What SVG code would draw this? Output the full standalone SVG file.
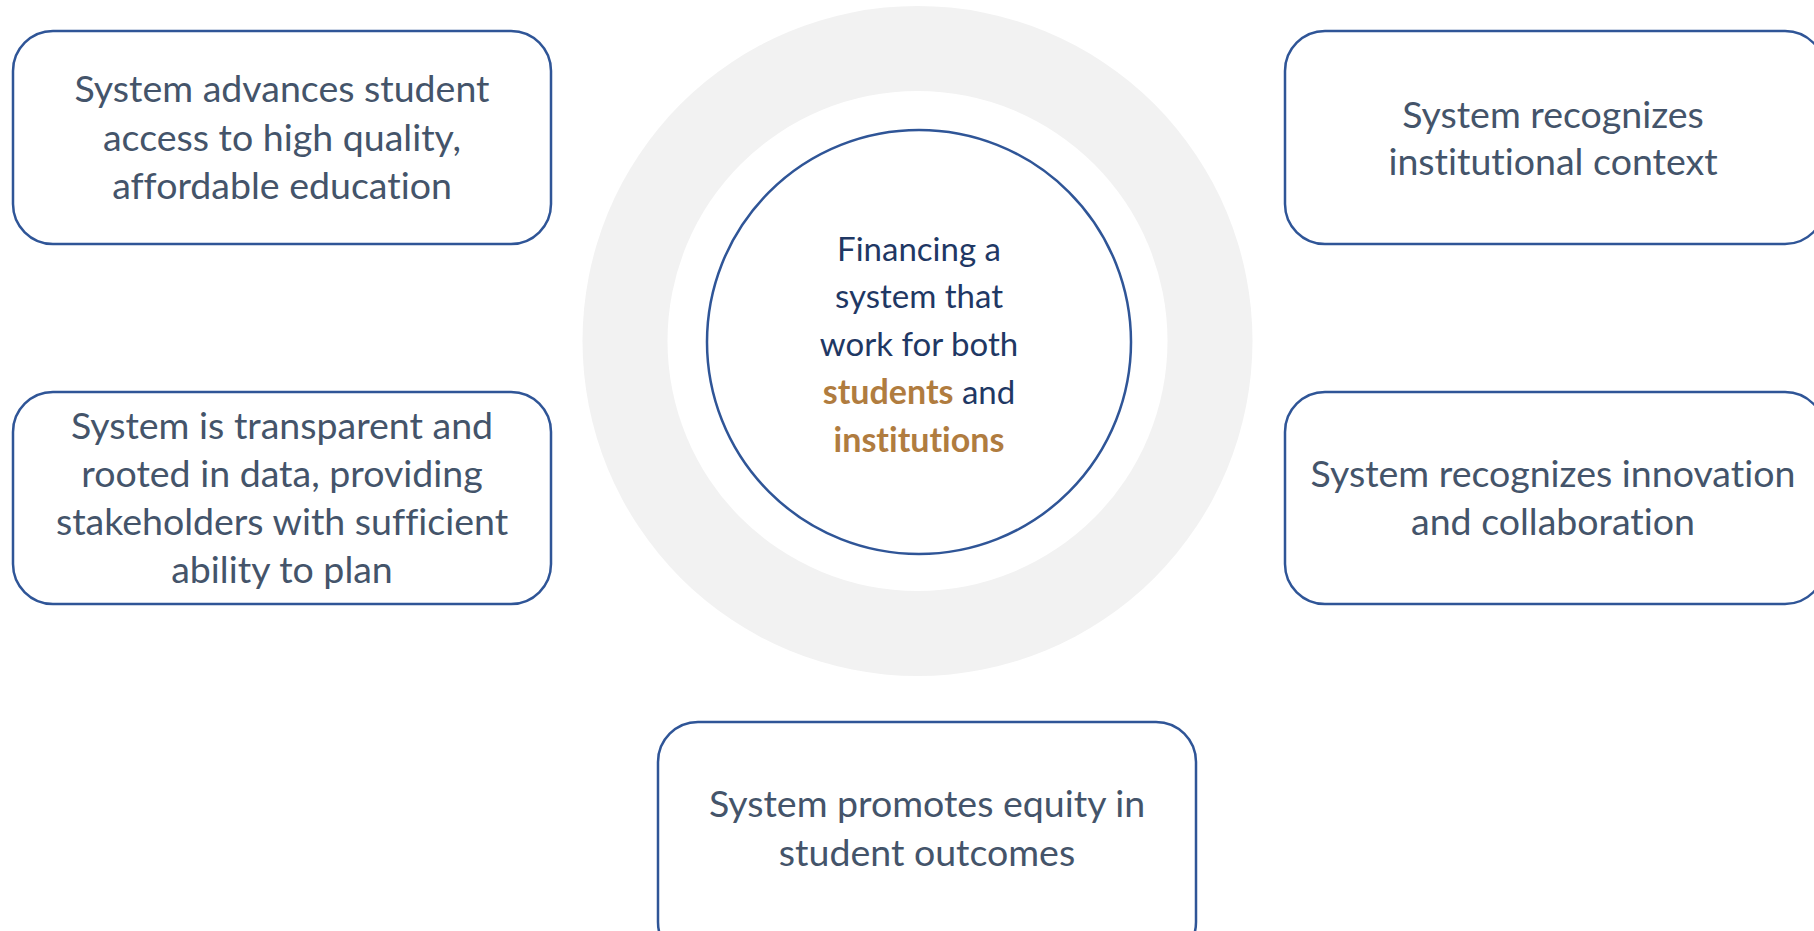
<svg xmlns="http://www.w3.org/2000/svg" width="1814" height="931" viewBox="0 0 1814 931">
<style>
.box{fill:#fff;stroke:#2F5597;stroke-width:2.5}
text{font-variant-ligatures:none;font-feature-settings:"liga" 0}
.t{font-family:Lato,"Liberation Sans",sans-serif;font-size:37.5px;fill:#44546A;text-anchor:middle}
.c{font-family:Lato,"Liberation Sans",sans-serif;font-size:33px;fill:#1F3864;text-anchor:middle}
.b{font-weight:bold;fill:#B07C3F;font-size:34px}
</style>
<rect width="1814" height="931" fill="#fff"/>
<g id="hub">
<circle cx="917.5" cy="341" r="335" fill="#F2F2F2"/>
<circle cx="917.5" cy="341" r="250" fill="#fff"/>
<circle cx="919" cy="342" r="212" fill="#fff" stroke="#2F5597" stroke-width="2.5"/>
<text class="c"><tspan x="919" y="261">Financing a</tspan><tspan x="919" y="308">system that</tspan><tspan x="919" y="356">work for both</tspan><tspan x="919" y="404"><tspan class="b">students</tspan> and</tspan><tspan x="919" y="452" class="b">institutions</tspan></text>
</g>
<g id="connectors"></g>
<g id="n1">
<rect class="box" x="13" y="31" width="538" height="213" rx="40"/>
<text class="t"><tspan x="282" y="102">System advances student</tspan><tspan x="282" y="151">access to high quality,</tspan><tspan x="282" y="199">affordable education</tspan></text>
</g>
<g id="n2">
<rect class="box" x="1285" y="31" width="540" height="213" rx="40"/>
<text class="t"><tspan x="1553" y="128">System recognizes</tspan><tspan x="1553" y="175">institutional context</tspan></text>
</g>
<g id="n3">
<rect class="box" x="13" y="392" width="538" height="212" rx="40"/>
<text class="t"><tspan x="282" y="439">System is transparent and</tspan><tspan x="282" y="487">rooted in data, providing</tspan><tspan x="282" y="535">stakeholders with sufficient</tspan><tspan x="282" y="583">ability to plan</tspan></text>
</g>
<g id="n4">
<rect class="box" x="1285" y="392" width="540" height="212" rx="40"/>
<text class="t"><tspan x="1553" y="487">System recognizes innovation</tspan><tspan x="1553" y="535">and collaboration</tspan></text>
</g>
<g id="n5">
<rect class="box" x="658" y="722" width="538" height="240" rx="40"/>
<text class="t"><tspan x="927" y="817">System promotes equity in</tspan><tspan x="927" y="866">student outcomes</tspan></text>
</g>
</svg>
